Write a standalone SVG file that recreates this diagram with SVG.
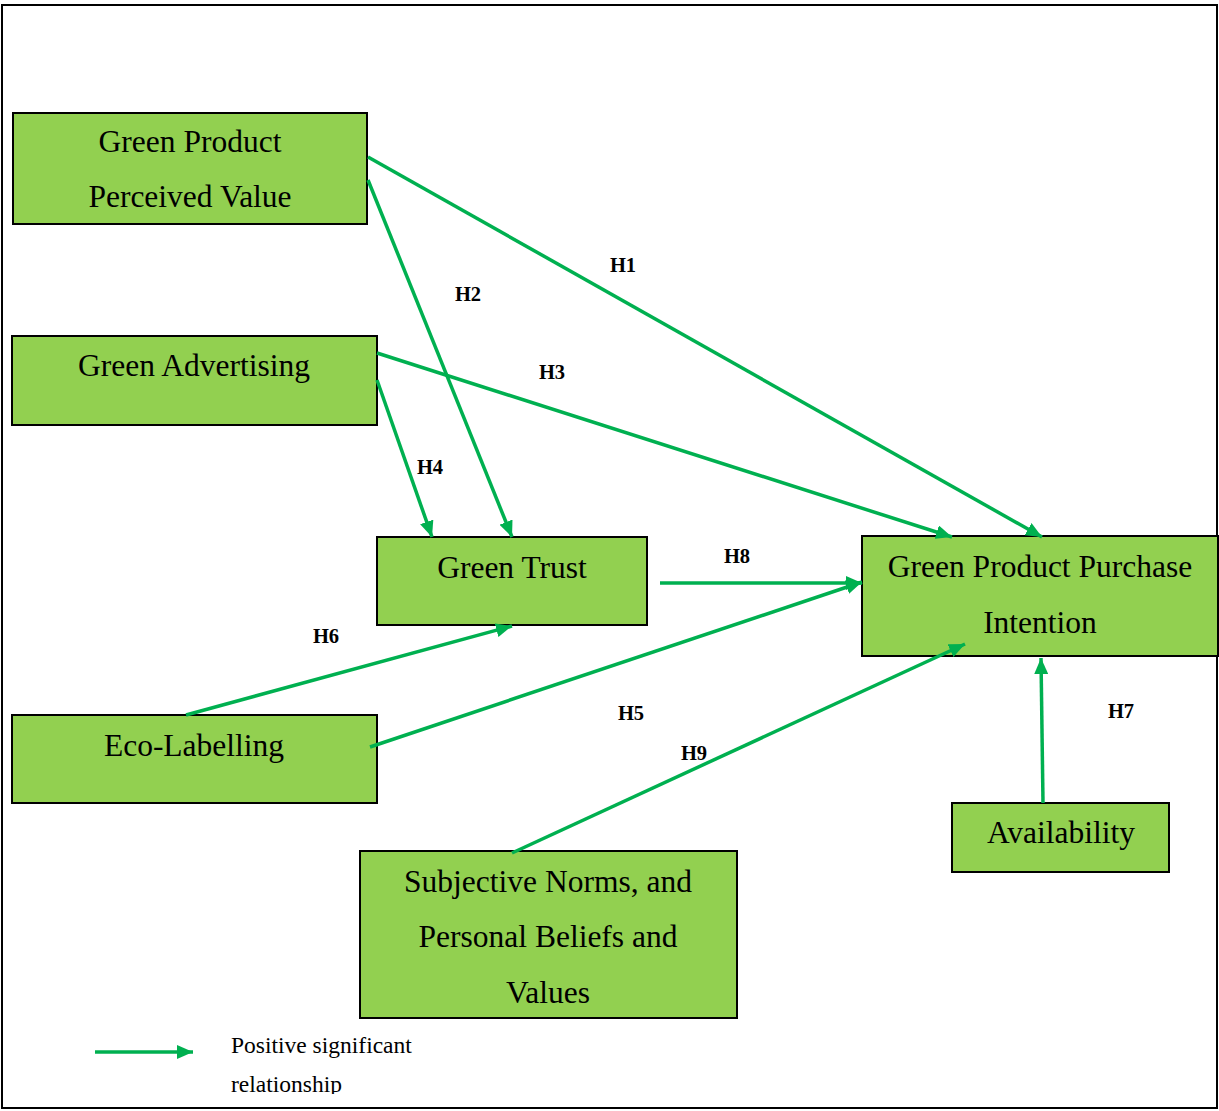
<svg xmlns="http://www.w3.org/2000/svg" width="1219" height="1111" viewBox="0 0 1219 1111">
  <style>
    .box { fill: #92D050; stroke: #000; stroke-width: 2; }
    .label { font-family: "Liberation Serif", "Times New Roman", serif; font-size: 31.5px; fill: #000; text-anchor: middle; }
    .hyp { font-family: "Liberation Serif", "Times New Roman", serif; font-size: 20.5px; font-weight: bold; fill: #000; text-anchor: middle; }
    .legend { font-family: "Liberation Serif", "Times New Roman", serif; font-size: 23.5px; fill: #000; }
    .link { stroke: #00B050; stroke-width: 3.5; fill: none; marker-end: url(#arrow); }
  </style>
  <defs>
    <marker id="arrow" markerUnits="userSpaceOnUse" markerWidth="18" markerHeight="14" refX="16" refY="7" orient="auto">
      <path d="M0,0 L16,7 L0,14 Z" fill="#00B050"/>
    </marker>
    <clipPath id="frameClip">
      <rect x="0" y="0" width="1219" height="1094"/>
    </clipPath>
  </defs>

  <rect x="0" y="0" width="1219" height="1111" fill="#fff"/>
  <!-- outer frame -->
  <rect x="2" y="5" width="1215" height="1103" fill="none" stroke="#000" stroke-width="2"/>

  <g id="node-perceived-value">
    <rect class="box" x="13" y="113" width="354" height="111"/>
    <text class="label" x="190" y="152">Green Product</text>
    <text class="label" x="190" y="207">Perceived Value</text>
  </g>

  <g id="node-advertising">
    <rect class="box" x="12" y="336" width="365" height="89"/>
    <text class="label" x="194" y="376">Green Advertising</text>
  </g>

  <g id="node-trust">
    <rect class="box" x="377" y="537" width="270" height="88"/>
    <text class="label" x="512" y="578">Green Trust</text>
  </g>

  <g id="node-purchase-intention">
    <rect class="box" x="862" y="536" width="356" height="120"/>
    <text class="label" x="1040" y="577">Green Product Purchase</text>
    <text class="label" x="1040" y="633">Intention</text>
  </g>

  <g id="node-eco-labelling">
    <rect class="box" x="12" y="715" width="365" height="88"/>
    <text class="label" x="194" y="756">Eco-Labelling</text>
  </g>

  <g id="node-norms-beliefs">
    <rect class="box" x="360" y="851" width="377" height="167"/>
    <text class="label" x="548" y="892">Subjective Norms, and</text>
    <text class="label" x="548" y="947">Personal Beliefs and</text>
    <text class="label" x="548" y="1003">Values</text>
  </g>

  <g id="node-availability">
    <rect class="box" x="952" y="803" width="217" height="69"/>
    <text class="label" x="1061" y="843">Availability</text>
  </g>

  <!-- connectors, drawn over the boxes -->
  <g id="connectors">
    <line class="link" x1="368" y1="157" x2="1042" y2="537"/>
    <line class="link" x1="368" y1="180" x2="512" y2="537"/>
    <line class="link" x1="377" y1="353" x2="952" y2="537"/>
    <line class="link" x1="377" y1="380" x2="432" y2="537"/>
    <line class="link" x1="660" y1="583" x2="862" y2="583"/>
    <line class="link" x1="370" y1="747" x2="862" y2="582"/>
    <line class="link" x1="186" y1="715" x2="512" y2="626"/>
    <line class="link" x1="512" y1="853" x2="965" y2="644"/>
    <line class="link" x1="1043" y1="803" x2="1041" y2="658"/>

    <text class="hyp" x="623" y="272">H1</text>
    <text class="hyp" x="468" y="301">H2</text>
    <text class="hyp" x="552" y="379">H3</text>
    <text class="hyp" x="430" y="474">H4</text>
    <text class="hyp" x="737" y="563">H8</text>
    <text class="hyp" x="326" y="643">H6</text>
    <text class="hyp" x="631" y="720">H5</text>
    <text class="hyp" x="694" y="760">H9</text>
    <text class="hyp" x="1121" y="718">H7</text>
  </g>

  <!-- legend -->
  <g id="legend">
    <line class="link" x1="95" y1="1052" x2="193" y2="1052"/>
    <g clip-path="url(#frameClip)">
      <text class="legend" x="231" y="1053">Positive significant</text>
      <text class="legend" x="231" y="1092">relationship</text>
    </g>
  </g>
</svg>
